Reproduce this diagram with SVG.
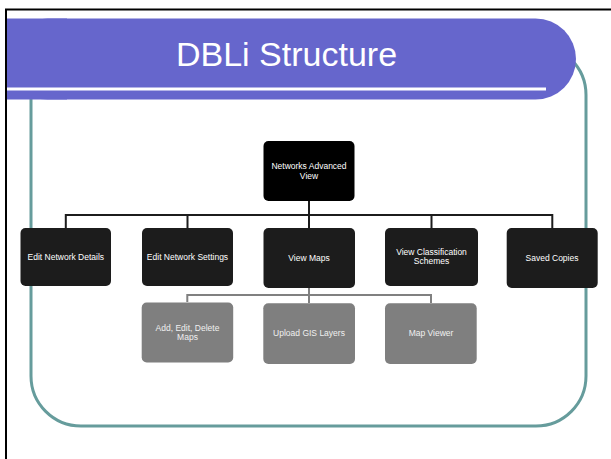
<svg xmlns="http://www.w3.org/2000/svg" width="611" height="459" viewBox="0 0 611 459">
<style>
.lbl{font-family:"Liberation Sans",Arial,sans-serif;font-size:8.5px;text-anchor:middle;fill:#ffffff}
.glbl{font-family:"Liberation Sans",Arial,sans-serif;font-size:8.5px;text-anchor:middle;fill:#f0f0f0}
.dark{fill:#1c1c1c}
.gray{fill:#7f7f7f}
.c1{stroke:#1c1c1c;stroke-width:2;fill:none}
.c2{stroke:#808080;stroke-width:2;fill:none}
</style>
<rect x="0" y="0" width="611" height="459" fill="#ffffff"/>
<rect x="6" y="9.5" width="700" height="600" fill="none" stroke="#000" stroke-width="2"/>
<rect x="31" y="45" width="555" height="381" rx="50" ry="50" fill="none" stroke="#669c9c" stroke-width="3"/>
<g id="title">
<rect x="7" y="18.5" width="569" height="81" rx="40.5" ry="40.5" fill="#6666cc"/>
<rect x="7" y="18.5" width="60" height="81" fill="#6666cc"/>
<rect x="7" y="87.5" width="539" height="3" fill="#ffffff"/>
<text x="286.5" y="66" font-family="'Liberation Sans',Arial,sans-serif" font-size="34" fill="#ffffff" text-anchor="middle">DBLi Structure</text>
</g>
<g id="connectors">
<path class="c1" d="M309 201V228M65.8 228V215H552.3V228M187.5 215V228M431.5 215V228"/>
<path class="c2" d="M309 288V303M187.3 302V295H431V303"/>
</g>
<g id="n-root">
<rect x="263.5" y="141" width="91" height="60" rx="5" fill="#000"/>
<text class="lbl" x="309" y="169">Networks Advanced</text>
<text class="lbl" x="309" y="178.7">View</text>
</g>
<g id="n-edit-details">
<rect class="dark" x="20.5" y="228" width="90.5" height="58" rx="5"/>
<text class="lbl" x="65.8" y="260">Edit Network Details</text>
</g>
<g id="n-edit-settings">
<rect class="dark" x="142" y="228" width="91" height="58" rx="5"/>
<text class="lbl" x="187.5" y="260">Edit Network Settings</text>
</g>
<g id="n-view-maps">
<rect class="dark" x="263.5" y="228" width="91.5" height="60" rx="5"/>
<text class="lbl" x="309" y="261">View Maps</text>
</g>
<g id="n-classification">
<rect class="dark" x="385" y="228" width="93" height="58" rx="5"/>
<text class="lbl" x="431.5" y="255">View Classification</text>
<text class="lbl" x="431.5" y="264">Schemes</text>
</g>
<g id="n-saved">
<rect class="dark" x="506.7" y="228" width="91" height="60" rx="5"/>
<text class="lbl" x="552" y="261">Saved Copies</text>
</g>
<g id="n-add-edit">
<rect class="gray" x="141.7" y="302.5" width="91.5" height="60" rx="5"/>
<text class="glbl" x="187.5" y="331.3">Add, Edit, Delete</text>
<text class="glbl" x="187.5" y="340.3">Maps</text>
</g>
<g id="n-upload">
<rect class="gray" x="263.3" y="303.3" width="91.7" height="60.7" rx="5"/>
<text class="glbl" x="309" y="335.7">Upload GIS Layers</text>
</g>
<g id="n-mapviewer">
<rect class="gray" x="385" y="303.3" width="91.7" height="60.7" rx="5"/>
<text class="glbl" x="431" y="335.7">Map Viewer</text>
</g>
</svg>
